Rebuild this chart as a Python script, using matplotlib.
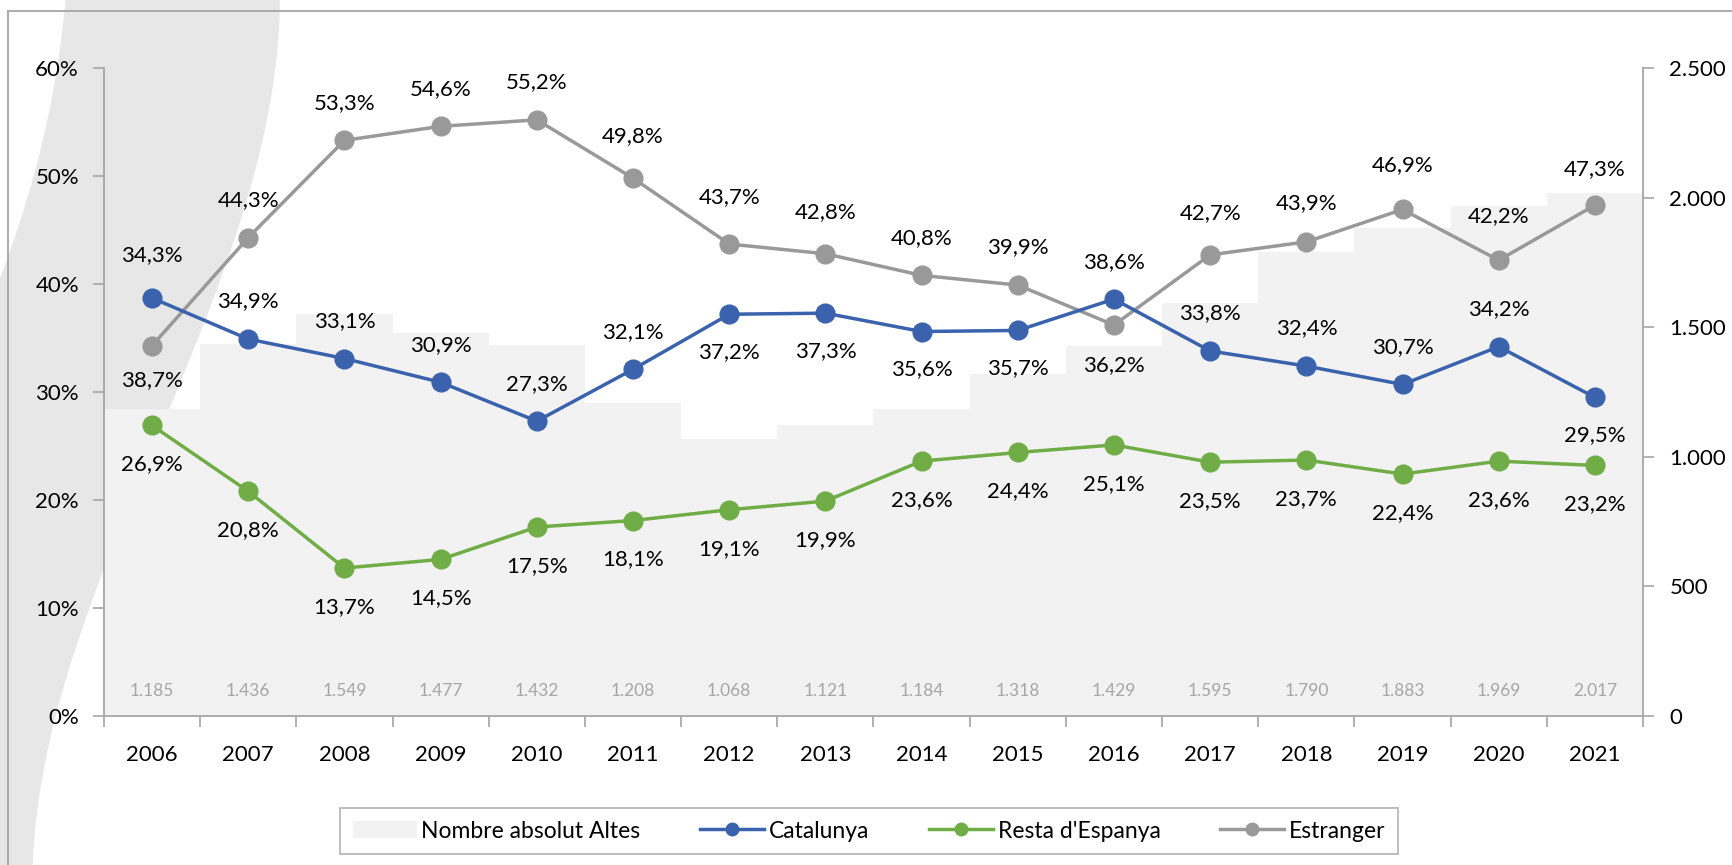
import numpy as np
import matplotlib
matplotlib.use("Agg")
import matplotlib.pyplot as plt
from matplotlib.patches import Polygon, Patch
from matplotlib.lines import Line2D
from matplotlib.ticker import FuncFormatter, FixedLocator

plt.rcParams['font.family'] = ['Lato', 'DejaVu Sans']

# DATA
years = [str(y) for y in range(2006, 2022)]
altes = [1185, 1436, 1549, 1477, 1432, 1208, 1068, 1121, 1184, 1318,
         1429, 1595, 1790, 1883, 1969, 2017]
catalunya = [38.7, 34.9, 33.1, 30.9, 27.3, 32.1, 37.2, 37.3, 35.6, 35.7,
             38.6, 33.8, 32.4, 30.7, 34.2, 29.5]
resta = [26.9, 20.8, 13.7, 14.5, 17.5, 18.1, 19.1, 19.9, 23.6, 24.4,
         25.1, 23.5, 23.7, 22.4, 23.6, 23.2]
estranger = [34.3, 44.3, 53.3, 54.6, 55.2, 49.8, 43.7, 42.8, 40.8, 39.9,
             36.2, 42.7, 43.9, 46.9, 42.2, 47.3]

# label placement: offset of each data label in points (+ above, - below)
cat_off = [-59, 27, 27, 27, 27, 27, -27, -27, -27, -27, 27, 27, 27, 27, 27, -27]
resta_off = [-28] * 16
estr_off = [65, 27, 27, 27, 27, 30, 34, 30, 27, 27, -29, 30, 28, 32, 32, 26]

BLUE = "#3a62ad"
GREEN = "#70ad47"
GREY = "#999999"
BAR = "#f2f2f2"
AXIS = "#a6a6a6"

W, H = 1733, 865
fig = plt.figure(figsize=(W / 100, H / 100), dpi=100)
fig.patch.set_facecolor("white")

# decorative swoosh on the left (pixel coords, y from top), smoothed
ry = np.array([0, 80, 150, 210, 290, 407, 490, 570, 715, 865])
rx = np.array([279, 274, 262, 245, 213, 172, 135, 102, 58, 32])
ly = np.array([0, 100, 200, 280])
lx = np.array([65, 53, 25, 0])
yy = np.linspace(0, 865, 120)
xr = np.polyval(np.polyfit(ry, rx, 3), yy)
yl = np.linspace(280, 0, 40)
xl = np.polyval(np.polyfit(ly, lx, 2), yl)
pts = list(zip(xr, yy)) + [(0, 865)] + list(zip(xl, yl))
pts = [(px / W, 1 - py / H) for px, py in pts]
fig.patches.append(Polygon(pts, closed=True, transform=fig.transFigure,
                           facecolor="#e7e7e7", edgecolor="none", zorder=-10))

# chart area border (top + left)
bx, by = 8 / W, 1 - 11 / H
fig.add_artist(Line2D([bx, bx], [0, by], transform=fig.transFigure, color=AXIS, lw=1.3))
fig.add_artist(Line2D([bx, 1], [by, by], transform=fig.transFigure, color=AXIS, lw=1.3))

ax = fig.add_axes([104 / W, 1 - 716 / H, (1643 - 104) / W, (716 - 68) / H])
axr = ax.twinx()

x = np.arange(len(years))

# bars on the right axis
axr.bar(x, altes, width=1.0, color=BAR, edgecolor="none", zorder=1)
axr.set_ylim(0, 2500)
axr.set_yticks(np.arange(0, 2501, 500))
axr.yaxis.set_major_formatter(FuncFormatter(lambda v, p: f"{int(v):,}".replace(",", ".")))
for i, v in enumerate(altes):
    axr.annotate(f"{v:,}".replace(",", "."), (i, 0), xytext=(0, 18),
                 textcoords="offset points", ha="center", va="center",
                 fontsize=12.5, color="#a6a6a6")

# lines on the left axis, drawn above the bars
ax.set_zorder(axr.get_zorder() + 1)
ax.patch.set_visible(False)
axr.patch.set_visible(False)

for vals, offs, col in [(estranger, estr_off, GREY), (catalunya, cat_off, BLUE),
                        (resta, resta_off, GREEN)]:
    ax.plot(x, vals, color=col, lw=2.5, marker="o", markersize=13.5, zorder=3)
    for i, (v, o) in enumerate(zip(vals, offs)):
        ax.annotate(f"{v:.1f}%".replace(".", ","), (i, v), xytext=(0, o),
                    textcoords="offset points", ha="center", va="center",
                    fontsize=16, color="black")

ax.set_ylim(0, 60)
ax.set_xlim(-0.5, len(years) - 0.5)
ax.set_yticks(np.arange(0, 61, 10))
ax.yaxis.set_major_formatter(FuncFormatter(lambda v, p: f"{int(v)}%"))

# x ticks: marks at category boundaries, labels at centres
ax.xaxis.set_major_locator(FixedLocator(np.arange(-0.5, len(years), 1.0)))
ax.xaxis.set_minor_locator(FixedLocator(x))
ax.set_xticklabels([])
ax.set_xticklabels(years, minor=True)
ax.tick_params(axis="x", which="major", length=8, color=AXIS, width=1.2)
ax.tick_params(axis="x", which="minor", length=0, pad=21, labelsize=16)
ax.tick_params(axis="y", length=8, color=AXIS, width=1.2, pad=10, labelsize=16)
axr.tick_params(axis="y", length=8, color=AXIS, width=1.2, pad=11, labelsize=16)

for a in (ax, axr):
    a.spines["top"].set_visible(False)
    for s in ("left", "right", "bottom"):
        a.spines[s].set_color(AXIS)
        a.spines[s].set_linewidth(1.3)
axr.spines["left"].set_visible(False)
axr.spines["bottom"].set_visible(False)
ax.spines["right"].set_visible(False)

handles = [
    Patch(facecolor=BAR, edgecolor="none", label="Nombre absolut Altes"),
    Line2D([], [], color=BLUE, lw=2.5, marker="o", markersize=9, label="Catalunya"),
    Line2D([], [], color=GREEN, lw=2.5, marker="o", markersize=9, label="Resta d'Espanya"),
    Line2D([], [], color=GREY, lw=2.5, marker="o", markersize=9, label="Estranger"),
]
leg = fig.legend(handles=handles, loc="center", bbox_to_anchor=(869 / W, 1 - 831 / H),
                 ncol=4, fontsize=16.5, frameon=True, fancybox=False, edgecolor=AXIS,
                 handlelength=2.8, handletextpad=0.2, columnspacing=2.6,
                 borderpad=0.55, borderaxespad=0)
leg.get_frame().set_linewidth(1.3)

fig.savefig("out.png", dpi=100)
